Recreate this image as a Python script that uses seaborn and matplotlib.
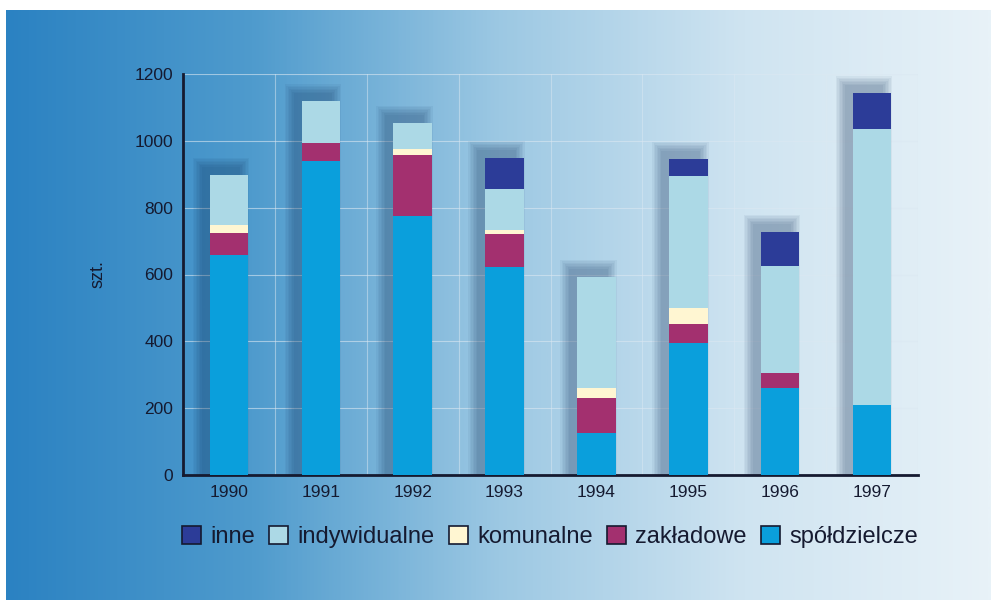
import numpy as np
import pandas as pd
import matplotlib
matplotlib.use("Agg")
import matplotlib.pyplot as plt
import seaborn as sns
from matplotlib.colors import LinearSegmentedColormap
from matplotlib.patches import Patch

years = ["1990", "1991", "1992", "1993", "1994", "1995", "1996", "1997"]
spoldzielcze = [657, 940, 776, 621, 125, 394, 260, 209]
zakladowe = [68, 54, 182, 101, 105, 57, 44, 0]
komunalne = [24, 0, 18, 12, 30, 48, 0, 0]
indywidualne = [149, 125, 78, 123, 334, 397, 320, 827]
inne = [0, 0, 0, 92, 0, 50, 104, 107]

series = [
    ("spółdzielcze", spoldzielcze, "#0a9fdc"),
    ("zakładowe", zakladowe, "#a3306f"),
    ("komunalne", komunalne, "#fff6d2"),
    ("indywidualne", indywidualne, "#acd9e6"),
    ("inne", inne, "#2c3c98"),
]

df = pd.DataFrame({"rok": years})
for name, vals, _ in series:
    df[name] = vals

sns.set_style("white")
plt.rcParams["font.family"] = ["Liberation Sans", "DejaVu Sans"]

fig = plt.figure(figsize=(9.91, 6.03), dpi=100)
fig.patch.set_facecolor("white")

# background gradient panel
bg = fig.add_axes([6 / 991, 3 / 603, 985 / 991, 590 / 603])
cmap = LinearSegmentedColormap.from_list(
    "bg", ["#2b82c2", "#4f9bcd", "#9cc8e3", "#cfe4f1", "#e8f2f8"])
grad = np.linspace(0, 1, 512).reshape(1, -1)
bg.imshow(grad, aspect="auto", cmap=cmap, extent=[0, 1, 0, 1])
bg.set_axis_off()

ax = fig.add_axes([183 / 991, 1 - 475 / 603, 735 / 991, 401 / 603])
ax.patch.set_alpha(0)

x = np.arange(len(years))
width = 0.42
totals = df[[s[0] for s in series]].sum(axis=1).values

# soft shadow behind bars (up and to the left)
px_x = 1 / 91.9
px_y = 1200 / 401
for k in range(7):
    pad = 1.5 * k
    ax.bar(x - 8 * px_x, totals + (8 + pad) * px_y, width=width + 2 * pad * px_x,
           color="#0b2a55", alpha=0.05, zorder=1, linewidth=0)

# grid
for yv in range(200, 1201, 200):
    ax.axhline(yv, color="#dbe8f2", lw=0.8, alpha=0.6, zorder=0.5)
for xv in np.arange(0.5, len(years), 1):
    ax.axvline(xv, color="#dbe8f2", lw=0.8, alpha=0.5, zorder=0.5)

bottom = np.zeros(len(years))
for name, vals, col in series:
    sns.barplot(data=df, x="rok", y=name, color=col, width=width,
                bottom=bottom, ax=ax, zorder=3, linewidth=0, saturation=1)
    bottom = bottom + np.array(vals)

ax.set_xlim(-0.5, len(years) - 0.5)
ax.set_ylim(0, 1200)
ax.set_yticks(range(0, 1201, 200))
ax.set_xticks(x)
ax.set_xticklabels(years)
ax.set_xticks(np.arange(-0.5, len(years), 1), minor=True)
ax.tick_params(axis="x", which="major", length=0, pad=7, labelsize=12.5,
               labelcolor="#151a30")
ax.tick_params(axis="x", which="minor", length=8, width=1.5, direction="inout",
               color="#151a30")
ax.tick_params(axis="y", length=8, width=1.5, direction="inout", color="#151a30",
               labelsize=12.5, labelcolor="#151a30", pad=3)
for side in ["top", "right"]:
    ax.spines[side].set_visible(False)
for side in ["left", "bottom"]:
    ax.spines[side].set_color("#151a30")
    ax.spines[side].set_linewidth(2)
ax.set_xlabel("")
ax.set_ylabel("szt.", fontsize=13, color="#151a30", labelpad=20)

handles = [Patch(facecolor=col, edgecolor="#151a30", linewidth=1.2, label=name)
           for name, _, col in series[::-1]]
fig.legend(handles=handles, loc="center", bbox_to_anchor=(550 / 991, 1 - 537 / 603),
           ncol=5, frameon=False, fontsize=17, handlelength=0.8, handleheight=0.8,
           handletextpad=0.4, columnspacing=0.6, labelcolor="#151a30")

fig.savefig("out.png", dpi=100)
